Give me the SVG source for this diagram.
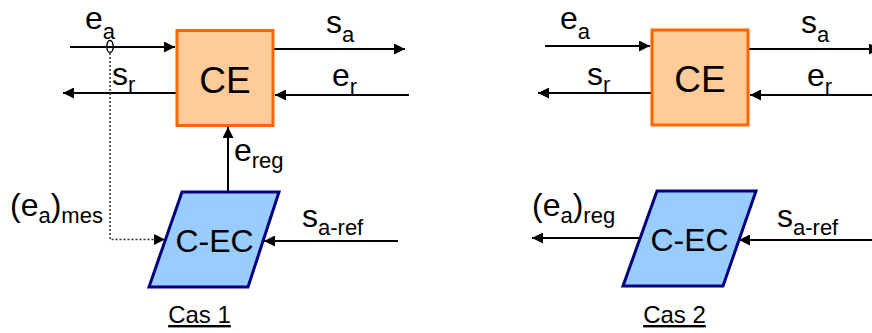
<svg xmlns="http://www.w3.org/2000/svg" width="872" height="333" viewBox="0 0 872 333">
<style>
text{font-family:"Liberation Sans",Arial,sans-serif;fill:#000}
.lbl{font-size:32px}
.sub{font-size:22px}
.ce{fill:#FFCC99;stroke:#FF6600;stroke-width:3}
.cec{fill:#99CCFF;stroke:#000080;stroke-width:3;stroke-linejoin:miter}
.ln{stroke:#000;stroke-width:2;fill:none;marker-end:url(#ah)}
.dot{stroke:#333;stroke-width:1.5;fill:none;stroke-dasharray:2 2;marker-end:url(#ah)}
.big{font-size:37px;text-anchor:middle}
.mid{font-size:32px;text-anchor:middle}
.cas{font-size:24px;text-anchor:middle;text-decoration:underline}
</style>
<defs>
<marker id="ah" viewBox="0 0 10 10" refX="10" refY="5" markerWidth="11" markerHeight="11" markerUnits="userSpaceOnUse" orient="auto">
<path d="M0,0 L10,5 L0,10 z" fill="#000"/>
</marker>
</defs>
<g id="connectors">
<line class="ln" x1="70" y1="47" x2="175" y2="47"/>
<line class="ln" x1="273" y1="49" x2="405" y2="49"/>
<line class="ln" x1="177" y1="93" x2="63" y2="93"/>
<line class="ln" x1="409" y1="95" x2="275" y2="95"/>
<line class="ln" x1="228" y1="192" x2="228" y2="127"/>
<polyline class="dot" points="110,53 110,239.5 165,239.5"/>
<line class="ln" x1="398" y1="241" x2="264" y2="241"/>
<line class="ln" x1="545" y1="46" x2="650" y2="46"/>
<line class="ln" x1="748" y1="49" x2="880" y2="49"/>
<line class="ln" x1="652" y1="93" x2="538" y2="93"/>
<line class="ln" x1="884" y1="95" x2="750" y2="95"/>
<line class="ln" x1="641" y1="238" x2="532" y2="238"/>
<line class="ln" x1="873" y1="240" x2="739" y2="240"/>
<ellipse cx="110" cy="46.5" rx="3.2" ry="6" fill="none" stroke="#000" stroke-width="1.5"/>
</g>
<g id="ce1">
<rect class="ce" x="177" y="30.5" width="96" height="95"/>
<text class="big" x="225" y="92.5">CE</text>
</g>
<g id="cec1">
<polygon class="cec" points="182,192 279,192 248,287 149,287"/>
<text class="mid" x="214.5" y="252">C-EC</text>
</g>
<g id="ce2">
<rect class="ce" x="652" y="30" width="96" height="95"/>
<text class="big" x="700" y="92">CE</text>
</g>
<g id="cec2">
<polygon class="cec" points="657,191 756,191 723,286 623,286"/>
<text class="mid" x="689.5" y="251">C-EC</text>
</g>
<g id="labels1">
<text class="lbl" x="85" y="29">e<tspan class="sub" dy="10">a</tspan></text>
<text class="lbl" x="326" y="33">s<tspan class="sub" dy="9">a</tspan></text>
<text class="lbl" x="332" y="86">e<tspan class="sub" dy="8">r</tspan></text>
<text class="lbl" x="112" y="85">s<tspan class="sub" dy="7">r</tspan></text>
<text class="lbl" x="234" y="161">e<tspan class="sub" dy="7">reg</tspan></text>
<text class="lbl" x="302" y="227">s<tspan class="sub" dy="8">a-ref</tspan></text>
<text class="lbl" x="10" y="216">(e<tspan class="sub" dy="7">a</tspan><tspan dy="-7">)</tspan><tspan class="sub" dy="7">mes</tspan></text>
<text class="cas" x="199.5" y="323">Cas 1</text>
</g>
<g id="labels2">
<text class="lbl" x="560" y="29">e<tspan class="sub" dy="10">a</tspan></text>
<text class="lbl" x="801" y="33">s<tspan class="sub" dy="9">a</tspan></text>
<text class="lbl" x="807" y="86">e<tspan class="sub" dy="8">r</tspan></text>
<text class="lbl" x="587" y="85">s<tspan class="sub" dy="7">r</tspan></text>
<text class="lbl" x="777" y="227">s<tspan class="sub" dy="8">a-ref</tspan></text>
<text class="lbl" x="532" y="216">(e<tspan class="sub" dy="7">a</tspan><tspan dy="-7">)</tspan><tspan class="sub" dy="7">reg</tspan></text>
<text class="cas" x="674.5" y="323">Cas 2</text>
</g>
</svg>
